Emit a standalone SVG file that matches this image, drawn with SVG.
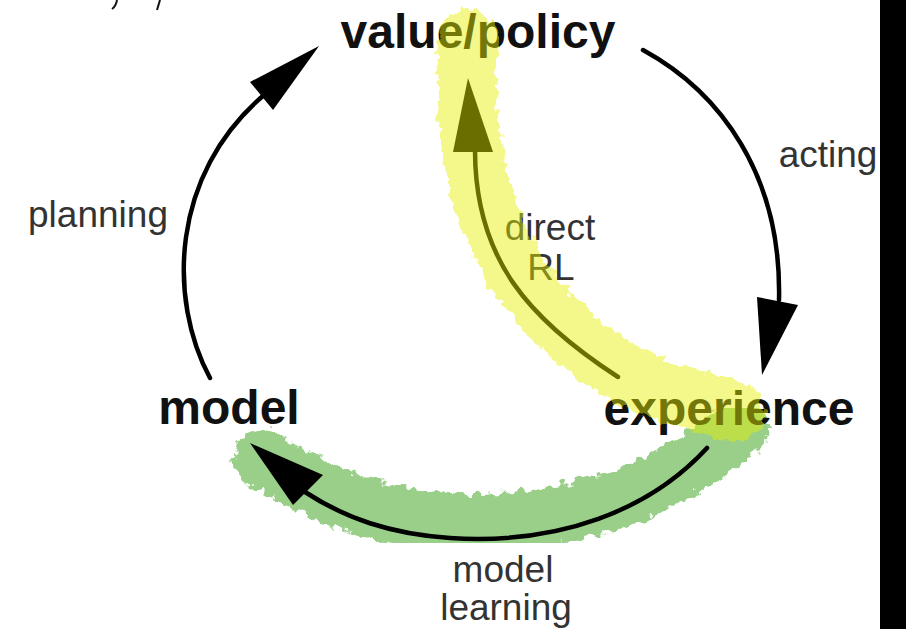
<svg xmlns="http://www.w3.org/2000/svg" width="906" height="629" viewBox="0 0 906 629">
  <style>
    .node { font-family: "Liberation Sans", Arial, sans-serif; font-weight: bold; font-size: 48px; fill: #111; }
    .lbl { font-family: "Liberation Sans", Arial, sans-serif; font-size: 37px; fill: #333; }
    .arc { fill: none; stroke: #000; stroke-width: 4.5; stroke-linecap: round; }
    .head { fill: #000; }
    .hl { fill: none; stroke-linecap: round; filter: url(#rough); }
  </style>
  <defs>
    <filter id="rough" x="-20%" y="-20%" width="140%" height="140%">
      <feTurbulence type="fractalNoise" baseFrequency="0.12" numOctaves="2" seed="3" result="n"/>
      <feDisplacementMap in="SourceGraphic" in2="n" scale="14" xChannelSelector="R" yChannelSelector="G"/>
    </filter>
  </defs>
  <rect width="906" height="629" fill="#fff"/>
  <!-- cut-off ink strokes at top-left -->
  <path d="M112,9 Q116,6 117,0" fill="none" stroke="#111" stroke-width="2"/>
  <path d="M157,10 L160,0" fill="none" stroke="#111" stroke-width="2"/>

  <g id="highlight-green">
    <path class="hl" d="M262,458 C335,508 420,528 500,522 C600,516 680,478 740,428" stroke="rgb(40,151,5)" stroke-opacity="0.46" stroke-width="58"/>
  </g>

  <g id="connectors">
    <g id="planning">
      <path class="arc" d="M210,378 C168,300 170,175 264,95"/>
      <polygon class="head" points="319,46 250,82 273,110"/>
    </g>
    <g id="acting">
      <path class="arc" d="M643,50 C720,92 782,175 779,300"/>
      <polygon class="head" points="762,375 757,297 798,305"/>
    </g>
    <g id="directRL">
      <path class="arc" d="M618,377 C530,320 475,260 475,150"/>
      <polygon class="head" points="468,78 453,152 493,152"/>
    </g>
    <g id="modelLearning">
      <path class="arc" d="M707,448 C650,510 560,545 450,538 C390,534 345,518 305,492"/>
      <polygon class="head" points="250,443 323,475 293,505"/>
    </g>
  </g>

  <g id="node-value-policy"><text class="node" x="478" y="48" text-anchor="middle">value/policy</text></g>
  <g id="node-model"><text class="node" x="229" y="424" text-anchor="middle" font-size="46">model</text></g>
  <g id="node-experience"><text class="node" x="729" y="425" text-anchor="middle">experience</text></g>

  <g id="labels">
    <text class="lbl" x="98" y="227" text-anchor="middle">planning</text>
    <text class="lbl" x="828" y="167" text-anchor="middle">acting</text>
    <text class="lbl" x="550" y="240" text-anchor="middle">direct</text>
    <text class="lbl" x="551" y="280" text-anchor="middle">RL</text>
    <text class="lbl" x="503" y="582" text-anchor="middle">model</text>
    <text class="lbl" x="506" y="620" text-anchor="middle">learning</text>
  </g>

  <g id="highlight-yellow">
    <path class="hl" d="M468,38 C458,180 500,290 600,358 C650,392 700,402 735,412" stroke="rgb(230,240,0)" stroke-opacity="0.46" stroke-width="60"/>
  </g>

  <rect x="880" y="0" width="26" height="629" fill="#000"/>
</svg>
